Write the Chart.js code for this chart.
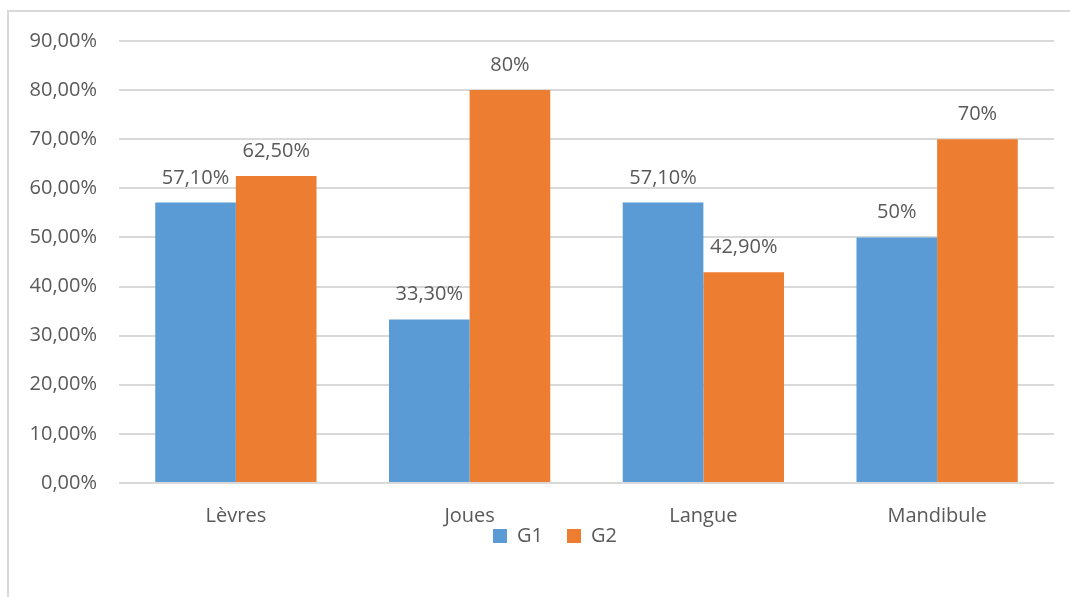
<!DOCTYPE html>
<html>
<head>
<meta charset="utf-8">
<script src="https://cdn.jsdelivr.net/npm/chart.js@4/dist/chart.umd.min.js"></script>
<style>
  html, body { margin: 0; padding: 0; background: #fff; }
  #wrap { position: relative; width: 1070px; height: 597px; overflow: hidden; }
  #frame { position: absolute; left: 7px; top: 10px; width: 1070px; height: 600px;
           border-top: 2px solid #d9d9d9; border-left: 2px solid #d9d9d9; }
  canvas { position: absolute; left: 0; top: 0; }
</style>
</head>
<body>
<div id="wrap">
  <div id="frame"></div>
  <canvas id="c" width="1070" height="597"></canvas>
</div>
<script>
const categories = ["Lèvres", "Joues", "Langue", "Mandibule"];
const g1Values = [57.1, 33.3, 57.1, 50];
const g2Values = [62.5, 80, 42.9, 70];
const g1Labels = ["57,10%", "33,30%", "57,10%", "50%"];
const g2Labels = ["62,50%", "80%", "42,90%", "70%"];
const yTickLabels = ["0,00%", "10,00%", "20,00%", "30,00%", "40,00%", "50,00%", "60,00%", "70,00%", "80,00%", "90,00%"];

const FONT = "'Open Sans', 'Noto Sans', sans-serif";
const TEXT = "#595959";

const valueLabels = {
  id: "valueLabels",
  afterDatasetsDraw(chart) {
    const ctx = chart.ctx;
    const sets = [g1Labels, g2Labels];
    ctx.save();
    ctx.font = "20px " + FONT;
    ctx.fillStyle = TEXT;
    ctx.textAlign = "center";
    ctx.textBaseline = "alphabetic";
    chart.data.datasets.forEach((ds, i) => {
      const meta = chart.getDatasetMeta(i);
      meta.data.forEach((bar, j) => {
        ctx.fillText(sets[i][j], bar.x, bar.y - 19);
      });
    });
    ctx.restore();
  }
};

let legendTarget = 529;
const legendShift = {
  id: "legendShift",
  afterLayout(chart) {
    const lg = chart.legend;
    if (!lg) return;
    lg.left += 18; lg.right += 18;
    const lineY = lg.top + (lg.bottom - lg.top) / 2;
    const dy = legendTarget - lineY;
    lg.top += dy; lg.bottom += dy;
  }
};

new Chart(document.getElementById("c"), {
  type: "bar",
  data: {
    labels: categories,
    datasets: [
      { label: "G1", data: g1Values, backgroundColor: "#5B9BD5", borderWidth: 0 },
      { label: "G2", data: g2Values, backgroundColor: "#ED7D31", borderWidth: 0 }
    ]
  },
  options: {
    responsive: false,
    animation: false,
    devicePixelRatio: 1,
    categoryPercentage: 0.69,
    barPercentage: 1,
    layout: { padding: { left: 20, right: 16, top: 41, bottom: 2 } },
    plugins: {
      tooltip: { enabled: false },
      legend: {
        position: "bottom",
        labels: {
          font: { size: 20, family: FONT },
          color: TEXT,
          boxWidth: 14,
          boxHeight: 14,
          padding: 24
        }
      }
    },
    scales: {
      x: {
        grid: { display: false },
        border: { display: false },
        ticks: { font: { size: 20, family: FONT }, color: TEXT, padding: 13 }
      },
      y: {
        min: 0,
        max: 90,
        afterFit(scale) { scale.width = 99; },
        border: { display: false },
        grid: { color: "#d9d9d9", lineWidth: 2, drawTicks: false },
        ticks: {
          stepSize: 10,
          padding: 22,
          font: { size: 20, family: FONT },
          color: TEXT,
          callback: (v) => yTickLabels[Math.round(v / 10)]
        }
      }
    }
  },
  plugins: [valueLabels, legendShift]
});
</script>
</body>
</html>
